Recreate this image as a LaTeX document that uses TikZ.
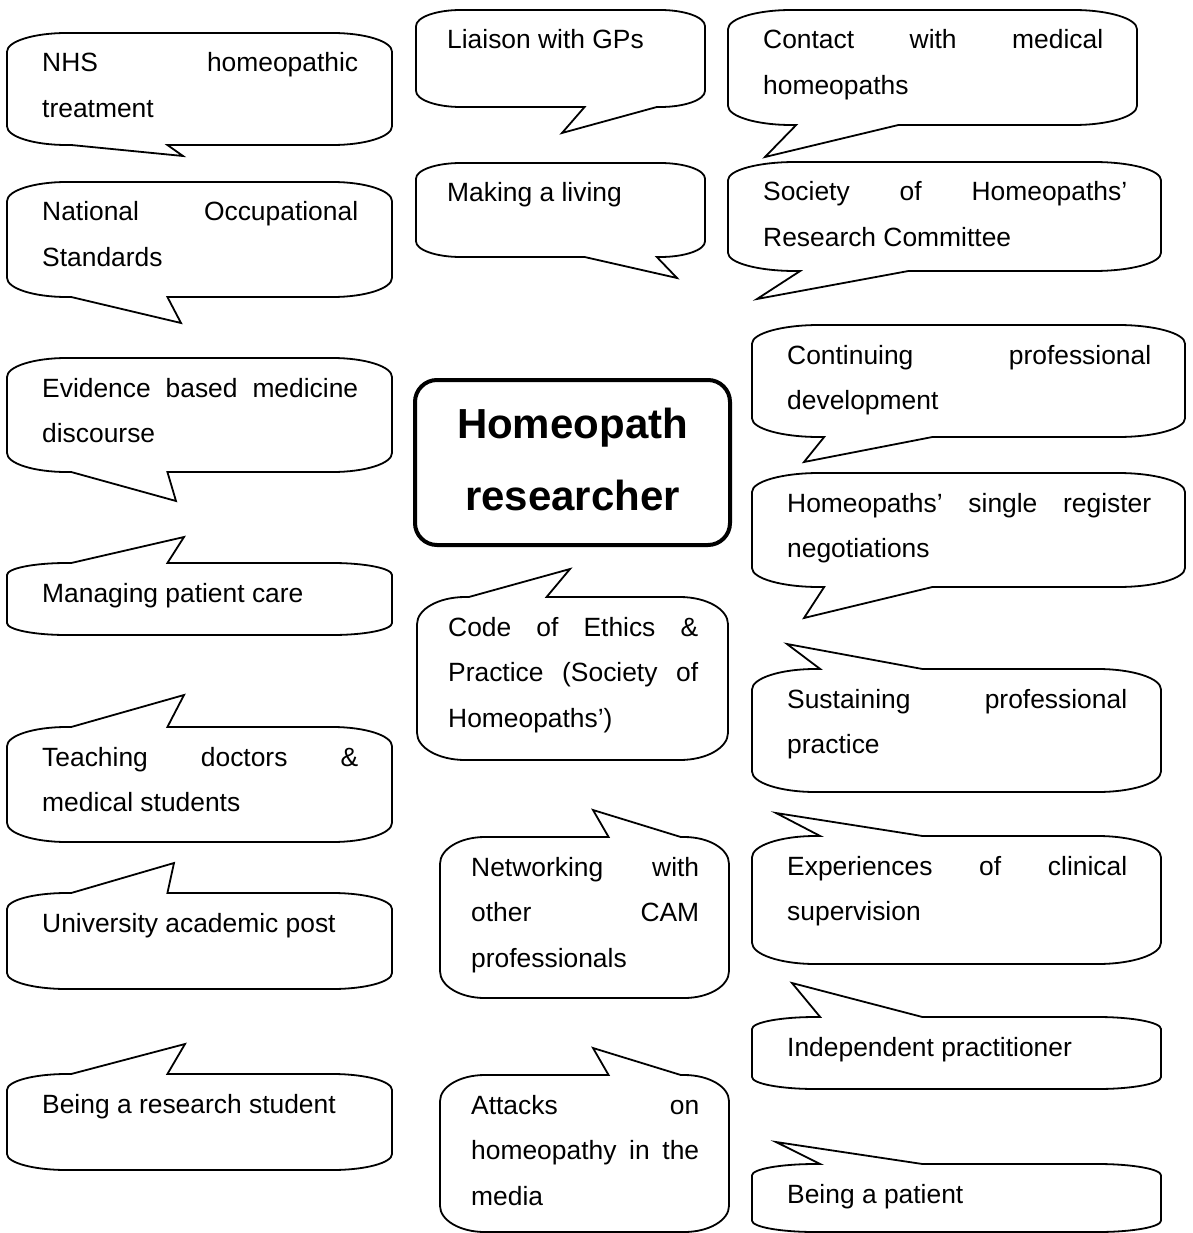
\documentclass[tikz,border=0pt]{standalone}
\usepackage{fontspec}
\setmainfont{Liberation Sans}
\hyphenpenalty=10000
\exhyphenpenalty=10000
\tikzset{
  bubble/.style={draw=black, line width=1.8pt, fill=white, line join=miter},
  bubbletext/.style={inner sep=0pt, align=justify, anchor=base west,
    font=\fontsize{26.4}{45.7}\selectfont},
  titlebox/.style={draw=black, line width=4pt, rounded corners=22pt,
    minimum width=315pt, minimum height=165pt, inner sep=0pt},
  titletext/.style={inner sep=0pt, align=center, text width=300pt, anchor=base,
    font=\fontsize{42}{72}\selectfont\bfseries},
}
% #1 name, #2 left, #3 top, #4 right, #5 bottom, #6 tip x, #7 tip y, #8 text pad, #9 text
\newcommand\speech[9]{%
  \pgfmathsetmacro\sL{#2}%
  \pgfmathsetmacro\sT{#3}%
  \pgfmathsetmacro\sR{#4}%
  \pgfmathsetmacro\sB{#5}%
  \pgfmathsetmacro\sW{\sR-\sL}%
  \pgfmathsetmacro\sH{\sB-\sT}%
  \pgfmathsetmacro\sry{min(\sW,\sH)/6}%
  \pgfmathsetmacro\srx{0.155*\sW}%
  \pgfmathsetmacro\skx{0.5523*\srx}%
  \pgfmathsetmacro\sky{0.5523*\sry}%
  \pgfmathtruncatemacro\sleft{(#6<(\sL+\sR)/2) ? 1 : 0}%
  \ifnum\sleft=1 \pgfmathsetmacro\sbA{\sL+\sW*2/12}\else\pgfmathsetmacro\sbA{\sL+\sW*7/12}\fi
  \pgfmathsetmacro\sbB{\sbA+\sW/4}%
  \pgfmathtruncatemacro\sdown{(#7>\sB) ? 1 : 0}%
  \pgfmathsetmacro\sTW{\sW-2*#8+1}%
  \ifnum\sdown=1
    \draw[bubble] (\sL+\srx,\sT) -- (\sR-\srx,\sT)
      .. controls (\sR-\srx+\skx,\sT) and (\sR,\sT+\sry-\sky) .. (\sR,\sT+\sry)
      -- (\sR,\sB-\sry)
      .. controls (\sR,\sB-\sry+\sky) and (\sR-\srx+\skx,\sB) .. (\sR-\srx,\sB)
      -- (\sbB,\sB) -- (#6,#7) -- (\sbA,\sB) -- (\sL+\srx,\sB)
      .. controls (\sL+\srx-\skx,\sB) and (\sL,\sB-\sry+\sky) .. (\sL,\sB-\sry)
      -- (\sL,\sT+\sry)
      .. controls (\sL,\sT+\sry-\sky) and (\sL+\srx-\skx,\sT) .. (\sL+\srx,\sT) -- cycle;
  \else
    \draw[bubble] (\sL+\srx,\sT) -- (\sbA,\sT) -- (#6,#7) -- (\sbB,\sT) -- (\sR-\srx,\sT)
      .. controls (\sR-\srx+\skx,\sT) and (\sR,\sT+\sry-\sky) .. (\sR,\sT+\sry)
      -- (\sR,\sB-\sry)
      .. controls (\sR,\sB-\sry+\sky) and (\sR-\srx+\skx,\sB) .. (\sR-\srx,\sB)
      -- (\sL+\srx,\sB)
      .. controls (\sL+\srx-\skx,\sB) and (\sL,\sB-\sry+\sky) .. (\sL,\sB-\sry)
      -- (\sL,\sT+\sry)
      .. controls (\sL,\sT+\sry-\sky) and (\sL+\srx-\skx,\sT) .. (\sL+\srx,\sT) -- cycle;
  \fi
  \node[bubbletext, text width=\sTW pt] (#1) at (\sL+#8,\sT+39) {#9};
}
\begin{document}
\begin{tikzpicture}[x=1pt,y=-1pt]
\fill[white] (0,0) rectangle (1192,1233);
\useasboundingbox (0,0) rectangle (1192,1233);

% centre
\node[titlebox] (hr) at (572.5,462.5) {};
\node[titletext] (hrtext) at (572.5,438) {Homeopath\\researcher};

% left column
\speech{nhs}{7}{33}{392}{145}{183}{156}{35}{NHS homeopathic\linebreak treatment}
\speech{nos}{7}{182}{392}{297}{181}{323}{35}{National Occupational\linebreak Standards}
\speech{ebm}{7}{358}{392}{472}{176}{501}{35}{Evidence based medicine\linebreak discourse}
\speech{mpc}{7}{563}{392}{635}{184}{537}{35}{Managing patient care}
\speech{tdm}{7}{727}{392}{842}{184}{695}{35}{Teaching doctors \&\linebreak medical students}
\speech{uap}{7}{893}{392}{989}{174}{863}{35}{University academic post}
\speech{brs}{7}{1074}{392}{1170}{185}{1044}{35}{Being a research student}

% middle column
\speech{lgp}{416}{10}{705}{107}{562}{133}{31}{Liaison with GPs}
\speech{mal}{416}{163}{705}{257}{677}{278}{31}{Making a living}
\speech{coe}{417}{597}{728}{760}{570}{569}{31}{Code of Ethics \&\linebreak Practice (Society of\linebreak Homeopaths’)}
\speech{net}{440}{837}{729}{998}{593}{810}{31}{Networking with\linebreak other CAM\linebreak professionals}
\speech{att}{440}{1075}{729}{1232}{593}{1048}{31}{Attacks on\linebreak homeopathy in the\linebreak media}

% right column
\speech{cmh}{728}{10}{1137}{125}{765}{157}{35}{Contact with medical\linebreak homeopaths}
\speech{shr}{728}{162}{1161}{271}{757}{299}{35}{Society of Homeopaths’\linebreak Research Committee}
\speech{cpd}{752}{325}{1185}{437}{804}{462}{35}{Continuing professional\linebreak development}
\speech{hsr}{752}{473}{1185}{587}{804}{618}{35}{Homeopaths’ single register\linebreak negotiations}
\speech{spp}{752}{669}{1161}{792}{787}{644}{35}{Sustaining professional\linebreak practice}
\speech{ecs}{752}{836}{1161}{964}{776}{813}{35}{Experiences of clinical\linebreak supervision}
\speech{ip}{752}{1017}{1161}{1089}{792}{983}{35}{Independent practitioner}
\speech{bap}{752}{1164}{1161}{1232}{776}{1142}{35}{Being a patient}
\end{tikzpicture}
\end{document}
